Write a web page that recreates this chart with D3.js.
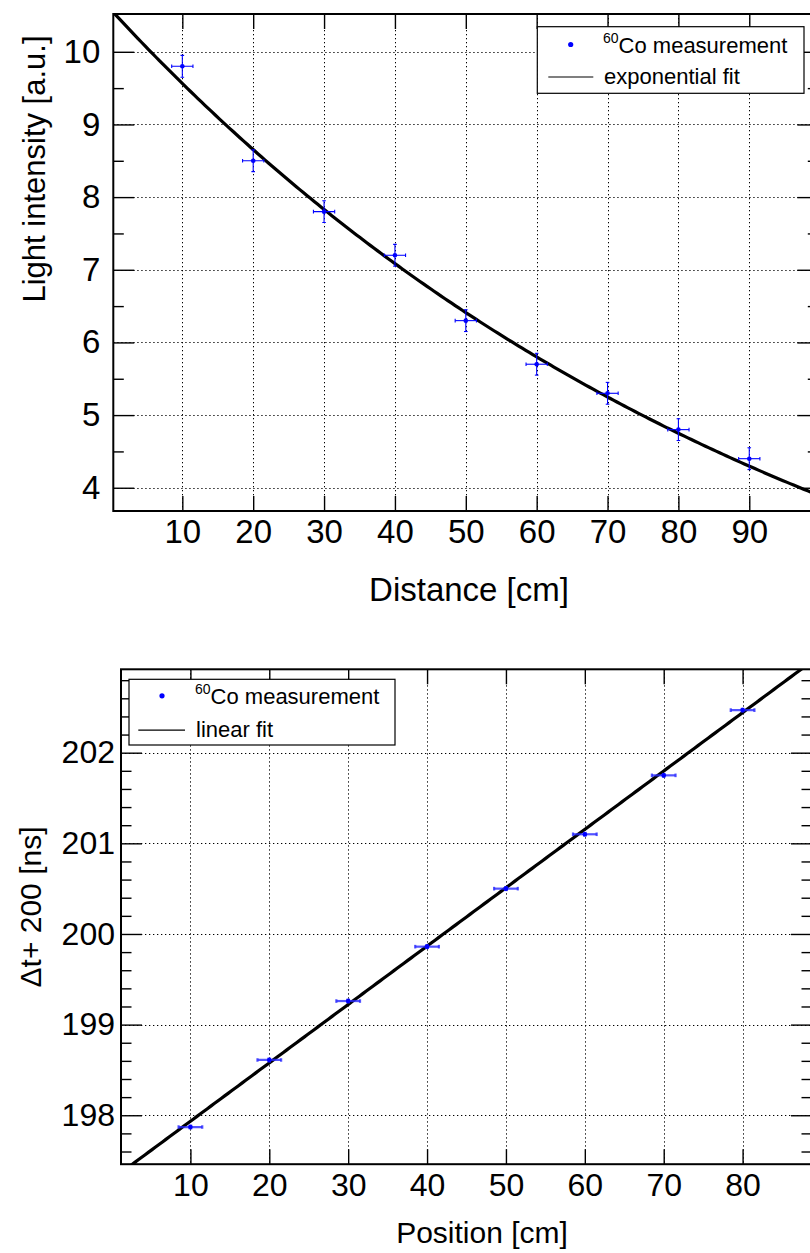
<!DOCTYPE html>
<html>
<head>
<meta charset="utf-8">
<script src="https://cdn.jsdelivr.net/npm/d3@7"></script>
<style>
  html, body { margin: 0; padding: 0; background: #fff; }
  svg { display: block; }
  text { font-family: "Liberation Sans", Arial, Helvetica, sans-serif; fill: #000; }
</style>
</head>
<body>
<svg id="chart" width="810" height="1253"></svg>
<script>
// ---------------- Data (top panel) ----------------
const distance      = [10, 20, 30, 40, 50, 60, 70, 80, 90];
const distanceErr   = [1.5, 1.5, 1.5, 1.5, 1.5, 1.5, 1.5, 1.5, 1.5];
const intensity     = [9.8, 8.5, 7.8, 7.2, 6.3, 5.7, 5.3, 4.8, 4.4];
const intensityErr  = [0.15, 0.15, 0.15, 0.15, 0.15, 0.15, 0.15, 0.15, 0.15];
const expFitAmp     = 10.57;   // exponential fit amplitude [a.u.]
const expFitLength  = 100.0;   // attenuation length [cm]
const topXTicks     = [10, 20, 30, 40, 50, 60, 70, 80, 90];
const topYTicks     = [4, 5, 6, 7, 8, 9, 10];
const topYMinor     = [4.5, 5.5, 6.5, 7.5, 8.5, 9.5];

// ---------------- Data (bottom panel) ----------------
const position      = [10, 20, 30, 40, 50, 60, 70, 80];
const positionErr   = [1.5, 1.5, 1.5, 1.5, 1.5, 1.5, 1.5, 1.5];
const deltaT        = [197.87, 198.61, 199.26, 199.86, 200.50, 201.10, 201.75, 202.47];
const deltaTErr     = [0.015, 0.015, 0.015, 0.015, 0.015, 0.015, 0.015, 0.015];
const linFitIntercept = 197.29;
const linFitSlope     = 0.0644;
const botXTicks     = [10, 20, 30, 40, 50, 60, 70, 80];
const botYTicks     = [198, 199, 200, 201, 202];
const botYMinor     = [197.6, 197.8, 198.2, 198.4, 198.6, 198.8, 199.2, 199.4, 199.6, 199.8,
                       200.2, 200.4, 200.6, 200.8, 201.2, 201.4, 201.6, 201.8, 202.2, 202.4, 202.6, 202.8];

const svg = d3.select("#chart");
svg.append("rect").attr("width", 810).attr("height", 1253).attr("fill", "#fff");

function panel(cfg) {
  const x = d3.scaleLinear().domain(cfg.xDomain).range([cfg.left, cfg.right]);
  const y = d3.scaleLinear().domain(cfg.yDomain).range([cfg.bottom, cfg.top]);
  const g = svg.append("g");
  const clipId = cfg.id + "-clip";
  svg.append("clipPath").attr("id", clipId).append("rect")
    .attr("x", cfg.left).attr("y", cfg.top)
    .attr("width", cfg.right - cfg.left).attr("height", cfg.bottom - cfg.top);

  // grid (dotted)
  const grid = g.append("g").attr("stroke", "#000").attr("stroke-width", 1)
    .attr("stroke-dasharray", "1.3,2.7").attr("fill", "none");
  cfg.xTicks.forEach(v => grid.append("line")
    .attr("x1", Math.round(x(v)) + 0.5).attr("x2", Math.round(x(v)) + 0.5)
    .attr("y1", cfg.top).attr("y2", cfg.bottom));
  cfg.yTicks.forEach(v => grid.append("line")
    .attr("y1", Math.round(y(v)) + 0.5).attr("y2", Math.round(y(v)) + 0.5)
    .attr("x1", cfg.left).attr("x2", cfg.right));

  // axes via d3 axis generators (ticks inside frame)
  const fs = cfg.fontSize;
  const xAxisB = d3.axisBottom(x).tickValues(cfg.xTicks).tickSizeInner(-cfg.xTickLen).tickSizeOuter(0).tickPadding(cfg.xPad).tickFormat(d3.format("d"));
  const xAxisT = d3.axisTop(x).tickValues(cfg.xTicks).tickSizeInner(-cfg.xTickLen).tickSizeOuter(0).tickFormat("");
  const yAxisL = d3.axisLeft(y).tickValues(cfg.yTicks).tickSizeInner(-cfg.yTickLen).tickSizeOuter(0).tickPadding(cfg.yPad).tickFormat(d3.format("d"));
  const yAxisR = d3.axisRight(y).tickValues(cfg.yTicks).tickSizeInner(-cfg.yTickLen).tickSizeOuter(0).tickFormat("");
  const yMinL = d3.axisLeft(y).tickValues(cfg.yMinor).tickSizeInner(-cfg.yTickLen / 2).tickSizeOuter(0).tickFormat("");
  const yMinR = d3.axisRight(y).tickValues(cfg.yMinor).tickSizeInner(-cfg.yTickLen / 2).tickSizeOuter(0).tickFormat("");

  const style = (sel) => {
    sel.select(".domain").remove();
    sel.selectAll(".tick line").attr("stroke", "#000").attr("stroke-width", 1.4);
    sel.selectAll("text").attr("font-size", fs).attr("fill", "#000")
      .style("font-family", '"Liberation Sans", Arial, Helvetica, sans-serif');
  };
  g.append("g").attr("transform", `translate(0,${cfg.bottom})`).call(xAxisB).call(style);
  g.append("g").attr("transform", `translate(0,${cfg.top})`).call(xAxisT).call(style);
  g.append("g").attr("transform", `translate(${cfg.left},0)`).call(yAxisL).call(style);
  g.append("g").attr("transform", `translate(${cfg.right},0)`).call(yAxisR).call(style);
  g.append("g").attr("transform", `translate(${cfg.left},0)`).call(yMinL).call(style);
  g.append("g").attr("transform", `translate(${cfg.right},0)`).call(yMinR).call(style);

  // frame
  g.append("rect").attr("x", cfg.left).attr("y", cfg.top)
    .attr("width", cfg.right - cfg.left).attr("height", cfg.bottom - cfg.top)
    .attr("fill", "none").attr("stroke", "#000").attr("stroke-width", 2);

  // fit curve
  const xs = d3.range(0, 201).map(i => cfg.xDomain[0] + (cfg.xDomain[1] - cfg.xDomain[0]) * i / 200);
  g.append("path")
    .attr("clip-path", `url(#${clipId})`)
    .attr("d", d3.line().x(d => x(d)).y(d => y(cfg.fit(d)))(xs))
    .attr("fill", "none").attr("stroke", "#000").attr("stroke-width", 3.2);

  // data: error bars + markers
  const pts = g.append("g").attr("clip-path", `url(#${clipId})`)
    .attr("stroke", cfg.errColor).attr("stroke-width", cfg.errWidth).attr("fill", "none");
  cfg.xs.forEach((xv, i) => {
    const yv = cfg.ys[i], ex = cfg.exs[i], ey = cfg.eys[i];
    const cx = x(xv), cy = y(yv);
    pts.append("line").attr("x1", x(xv - ex)).attr("x2", x(xv + ex)).attr("y1", cy).attr("y2", cy);
    pts.append("line").attr("x1", cx).attr("x2", cx).attr("y1", y(yv - ey)).attr("y2", y(yv + ey));
    [xv - ex, xv + ex].forEach(e => pts.append("line").attr("x1", x(e)).attr("x2", x(e))
      .attr("y1", cy - cfg.cap).attr("y2", cy + cfg.cap));
    [yv - ey, yv + ey].forEach(e => pts.append("line").attr("y1", y(e)).attr("y2", y(e))
      .attr("x1", cx - cfg.cap).attr("x2", cx + cfg.cap));
    g.append("circle").attr("cx", cx).attr("cy", cy).attr("r", 2.3).attr("fill", "#0000ff");
  });

  // axis titles
  svg.append("text").attr("x", cfg.xTitleX).attr("y", cfg.xTitleY).attr("text-anchor", "middle")
    .attr("font-size", cfg.xTitleSize).text(cfg.xTitle);
  svg.append("text").attr("transform", `translate(${cfg.yTitleX},${cfg.yTitleY}) rotate(-90)`)
    .attr("text-anchor", "middle").attr("font-size", cfg.yTitleSize).text(cfg.yTitle);

  // legend
  const L = cfg.legend;
  svg.append("rect").attr("x", L.x).attr("y", L.y).attr("width", L.w).attr("height", L.h)
    .attr("fill", "#fff").attr("stroke", "#000").attr("stroke-width", 1.2);
  svg.append("circle").attr("cx", L.markerX).attr("cy", L.row1Y - 8).attr("r", 2.6).attr("fill", "#0000ff");
  const t1 = svg.append("text").attr("x", L.textX).attr("y", L.row1Y).attr("font-size", 22);
  t1.append("tspan").attr("font-size", 14).attr("dy", -10).text("60");
  t1.append("tspan").attr("dy", 10).text("Co measurement");
  svg.append("line").attr("x1", L.lineX1).attr("x2", L.lineX2).attr("y1", L.row2Y - 7).attr("y2", L.row2Y - 7)
    .attr("stroke", "#000").attr("stroke-width", 1.2);
  svg.append("text").attr("x", L.textX + 1).attr("y", L.row2Y).attr("font-size", 22).text(L.label2);
}

panel({
  id: "top",
  left: 113.3, right: 818.3, top: 14, bottom: 511,
  xDomain: [0.26, 99.74], yDomain: [3.68, 10.52],
  xTicks: topXTicks, yTicks: topYTicks, yMinor: topYMinor,
  xTickLen: 15, yTickLen: 21, xPad: 9, yPad: 13, fontSize: 33,
  xs: distance, ys: intensity, exs: distanceErr, eys: intensityErr,
  fit: d => expFitAmp * Math.exp(-d / expFitLength),
  errColor: "#0000ff", errWidth: 1.1, cap: 1.8,
  xTitle: "Distance [cm]", xTitleX: 469, xTitleY: 601, xTitleSize: 33,
  yTitle: "Light intensity [a.u.]", yTitleX: 45, yTitleY: 169, yTitleSize: 31,
  legend: { x: 537.3, y: 26.7, w: 266.7, h: 66.6, markerX: 570.7, row1Y: 52.5, row2Y: 84,
            textX: 603, lineX1: 548.3, lineX2: 593.3, label2: "exponential fit" }
});

panel({
  id: "bot",
  left: 121, right: 812, top: 669.3, bottom: 1164.2,
  xDomain: [1.2, 88.8], yDomain: [197.46, 202.92],
  xTicks: botXTicks, yTicks: botYTicks, yMinor: botYMinor,
  xTickLen: 15, yTickLen: 21, xPad: 9, yPad: 6, fontSize: 32,
  xs: position, ys: deltaT, exs: positionErr, eys: deltaTErr,
  fit: d => linFitIntercept + linFitSlope * d,
  errColor: "rgba(40,40,255,0.8)", errWidth: 2.2, cap: 1.8,
  xTitle: "Position [cm]", xTitleX: 482, xTitleY: 1243, xTitleSize: 30,
  yTitle: "\u0394t+ 200 [ns]", yTitleX: 41, yTitleY: 907, yTitleSize: 30,
  legend: { x: 129, y: 679.3, w: 266, h: 65.7, markerX: 162, row1Y: 703.8, row2Y: 737.2,
            textX: 195, lineX1: 138.3, lineX2: 185, label2: "linear fit" }
});
</script>
</body>
</html>
